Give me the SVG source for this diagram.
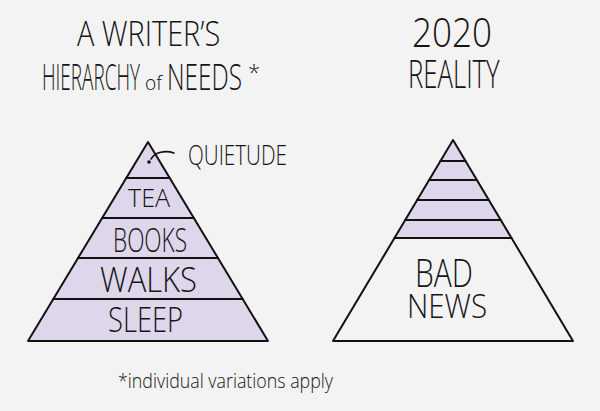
<svg xmlns="http://www.w3.org/2000/svg" width="600" height="411" viewBox="0 0 600 411">
  <style>
    .hand { font-family: "Open Sans", "Lato", "Liberation Sans", sans-serif; fill: #151515; font-weight: 300; }
    .tri { stroke: #111; stroke-width: 2; stroke-linejoin: round; }
    .band { stroke: #111; stroke-width: 2; stroke-linecap: round; }
    .shade { fill: #ded6ea; }
  </style>
  <rect width="600" height="411" fill="#f3f3f3"/>

  <g id="title-left">
    <text class="hand" transform="translate(77 46) scale(0.8 1)" x="0" y="0" font-size="34" textLength="179" lengthAdjust="spacingAndGlyphs">A WRITER’S</text>
    <text class="hand" transform="translate(42 90) scale(0.5 1)" x="0" y="0" font-size="37" textLength="196" lengthAdjust="spacingAndGlyphs">HIERARCHY</text>
    <text class="hand" x="145" y="90" font-size="21" textLength="17" lengthAdjust="spacingAndGlyphs">of</text>
    <text class="hand" transform="translate(167 90) scale(0.5 1)" x="0" y="0" font-size="37" textLength="150" lengthAdjust="spacingAndGlyphs">NEEDS</text>
    <text class="hand" x="248" y="80" font-size="22">*</text>
  </g>

  <g id="title-right">
    <text class="hand" transform="translate(412 47) scale(0.8 1)" x="0" y="0" font-size="41" textLength="100" lengthAdjust="spacingAndGlyphs">2020</text>
    <text class="hand" transform="translate(408 88) scale(0.7 1)" x="0" y="0" font-size="38" textLength="131" lengthAdjust="spacingAndGlyphs">REALITY</text>
  </g>

  <g id="pyramid-left">
    <polygon class="shade" points="148,142 268,341 28,341"/>
    <polygon class="tri" fill="none" points="148,142 268,341 28,341"/>
    <line class="band" x1="126.3" y1="178" x2="169.7" y2="178"/>
    <line class="band" x1="102.2" y1="218" x2="193.8" y2="218"/>
    <line class="band" x1="78" y1="258" x2="218" y2="258"/>
    <line class="band" x1="53.3" y1="299" x2="242.7" y2="299"/>
    <circle cx="149" cy="162" r="1.8" fill="#111"/>
    <text class="hand" x="128" y="207" font-size="26" textLength="42" lengthAdjust="spacingAndGlyphs">TEA</text>
    <text class="hand" x="113" y="252" font-size="33" textLength="74" lengthAdjust="spacingAndGlyphs">BOOKS</text>
    <text class="hand" x="100" y="292" font-size="35" textLength="97" lengthAdjust="spacingAndGlyphs">WALKS</text>
    <text class="hand" x="108" y="332" font-size="35" textLength="75" lengthAdjust="spacingAndGlyphs">SLEEP</text>
  </g>

  <g id="quietude-label">
    <text class="hand" x="188" y="165" font-size="28" textLength="99" lengthAdjust="spacingAndGlyphs">QUIETUDE</text>
  </g>

  <g id="connectors">
    <path d="M151,159 C155,152 165,150 174,153" fill="none" stroke="#111" stroke-width="1.6" stroke-linecap="round"/>
  </g>

  <g id="pyramid-right">
    <polygon class="shade" points="453,140 511.5,238 394.5,238"/>
    <polygon class="tri" fill="none" points="453,140 573,341 333,341"/>
    <line class="band" x1="440.5" y1="161" x2="465.5" y2="161"/>
    <line class="band" x1="429.1" y1="180" x2="476.9" y2="180"/>
    <line class="band" x1="417.2" y1="200" x2="488.8" y2="200"/>
    <line class="band" x1="405.2" y1="220" x2="500.8" y2="220"/>
    <line class="band" x1="394.5" y1="238" x2="511.5" y2="238"/>
    <text class="hand" x="415" y="287" font-size="38" textLength="58" lengthAdjust="spacingAndGlyphs">BAD</text>
    <text class="hand" x="407" y="318" font-size="33" textLength="80" lengthAdjust="spacingAndGlyphs">NEWS</text>
  </g>

  <g id="footnote">
    <text class="hand" x="118" y="388" font-size="21" textLength="215" lengthAdjust="spacingAndGlyphs">*individual variations apply</text>
  </g>
</svg>
